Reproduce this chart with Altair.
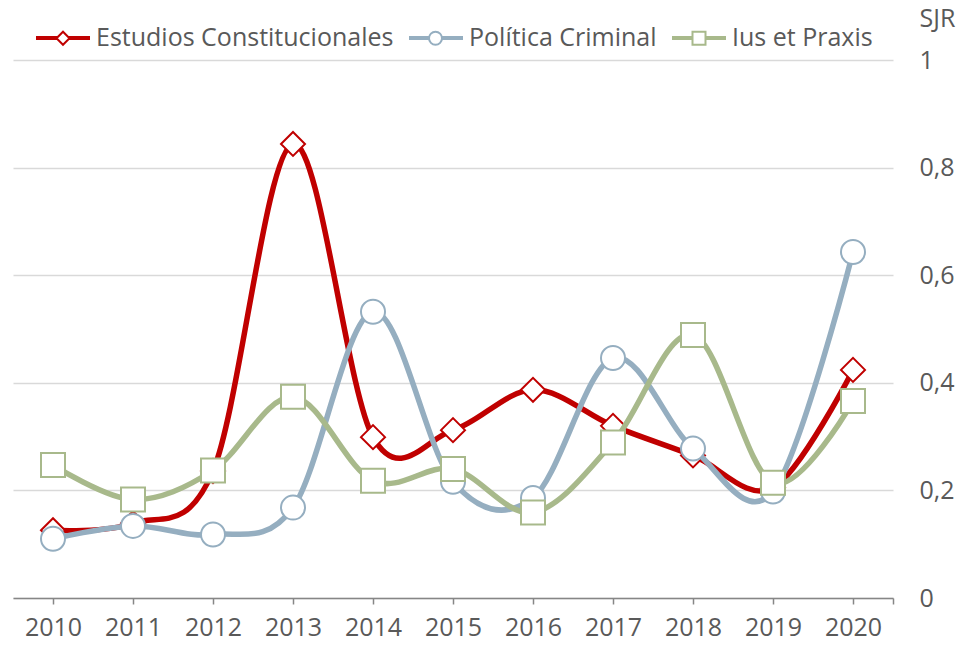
import altair as alt
import pandas as pd

years = list(range(2010, 2021))
series_names = ["Estudios Constitucionales", "Política Criminal", "Ius et Praxis"]
estudios = [0.126, 0.139, 0.236, 0.844, 0.299, 0.312, 0.387, 0.320, 0.265, 0.205, 0.424]
politica = [0.110, 0.134, 0.118, 0.168, 0.532, 0.216, 0.186, 0.446, 0.278, 0.198, 0.643]
ius = [0.247, 0.183, 0.237, 0.374, 0.218, 0.240, 0.159, 0.289, 0.489, 0.214, 0.366]
colors = ["#C00000", "#95AEC0", "#A8B98B"]
shapes = ["diamond", "circle", "square"]
x_ticks = years + [2020.5]
y_ticks = [0, 0.2, 0.4, 0.6, 0.8, 1.0]

# marker-legend keys (same names, a trailing space keeps that legend separate)
marker_names = [n + " " for n in series_names]

rows = []
for name, mname, vals in zip(series_names, marker_names, [estudios, politica, ius]):
    for yr, v in zip(years, vals):
        rows.append({"year": yr, "sjr": v, "serie": name, "serie_m": mname})
df = pd.DataFrame(rows)

FONT = "Open Sans"
TXT = "#595959"

x_enc = alt.X(
    "year:Q",
    scale=alt.Scale(domain=[2009.5, 2020.5], nice=False, zero=False),
    axis=alt.Axis(
        values=x_ticks, title=None, grid=False,
        labelExpr="datum.value % 1 ? '' : format(datum.value, 'd')",
        domainColor="#868686", domainWidth=1.5, tickColor="#868686", tickWidth=1.5,
        tickSize=6, labelPadding=11, labelFontSize=25, labelColor=TXT, labelFont=FONT,
        labelFlush=False, labelOverlap=False,
    ),
)
y_enc = alt.Y(
    "sjr:Q",
    scale=alt.Scale(domain=[0, 1], nice=False),
    axis=alt.Axis(
        orient="right", values=y_ticks,
        labelExpr="replace(format(datum.value, '.1~f'), '.', ',')",
        domain=False, ticks=False, tickSize=0, labelPadding=26,
        grid=True, gridColor="#D9D9D9", gridWidth=1.5,
        labelAlign="left", labelBaseline="middle", labelFontSize=25, labelColor=TXT, labelFont=FONT,
        title="SJR", titleAngle=0, titleX=26, titleY=-42, titleAlign="left", titleBaseline="middle",
        titleFont=FONT, titleFontSize=25, titleFontWeight="normal", titleColor=TXT,
    ),
)

legend_lines = alt.Legend(
    orient="none", legendX=21, legendY=-51, direction="horizontal", title=None,
    symbolType="M-1,0H1", symbolSize=2916, symbolStrokeWidth=4, labelOffset=4,
    columnPadding=7, labelFontSize=25, labelFont=FONT, labelColor=TXT,
    padding=0, labelLimit=500, zindex=1,
)
legend_marks = alt.Legend(
    orient="none", legendX=37.5, legendY=-34.5, direction="horizontal", title=None,
    symbolSize=169, symbolStrokeWidth=2, symbolFillColor="white", labelOffset=20.5,
    columnPadding=29.5, labelFontSize=25, labelFont=FONT, labelOpacity=0,
    padding=0, labelLimit=500, zindex=2,
)

color_enc = alt.Color("serie:N", scale=alt.Scale(domain=series_names, range=colors), legend=legend_lines)
stroke_enc = alt.Stroke("serie_m:N", scale=alt.Scale(domain=marker_names, range=colors), legend=legend_marks)
shape_enc = alt.Shape("serie_m:N", scale=alt.Scale(domain=marker_names, range=shapes), legend=legend_marks)

layers = []
for name in series_names:
    base = alt.Chart().transform_filter(alt.datum.serie == name)
    layers.append(
        base.mark_line(interpolate="cardinal", strokeWidth=5.5, strokeCap="round").encode(
            x=x_enc, y=y_enc, color=color_enc
        )
    )
    layers.append(
        base.mark_point(size=576, filled=True, fill="white", strokeWidth=2, opacity=1).encode(
            x=x_enc, y=y_enc, stroke=stroke_enc, shape=shape_enc
        )
    )

chart = (
    alt.layer(*layers, data=df)
    .properties(
        width=880, height=538,
        padding={"left": 5, "top": 52, "right": 64, "bottom": 42},
        autosize=alt.AutoSizeParams(type="none"),
        background="white",
    )
    .configure_view(stroke=None)
)

chart.save("out.html", embed_options={"renderer": "svg", "actions": False})
